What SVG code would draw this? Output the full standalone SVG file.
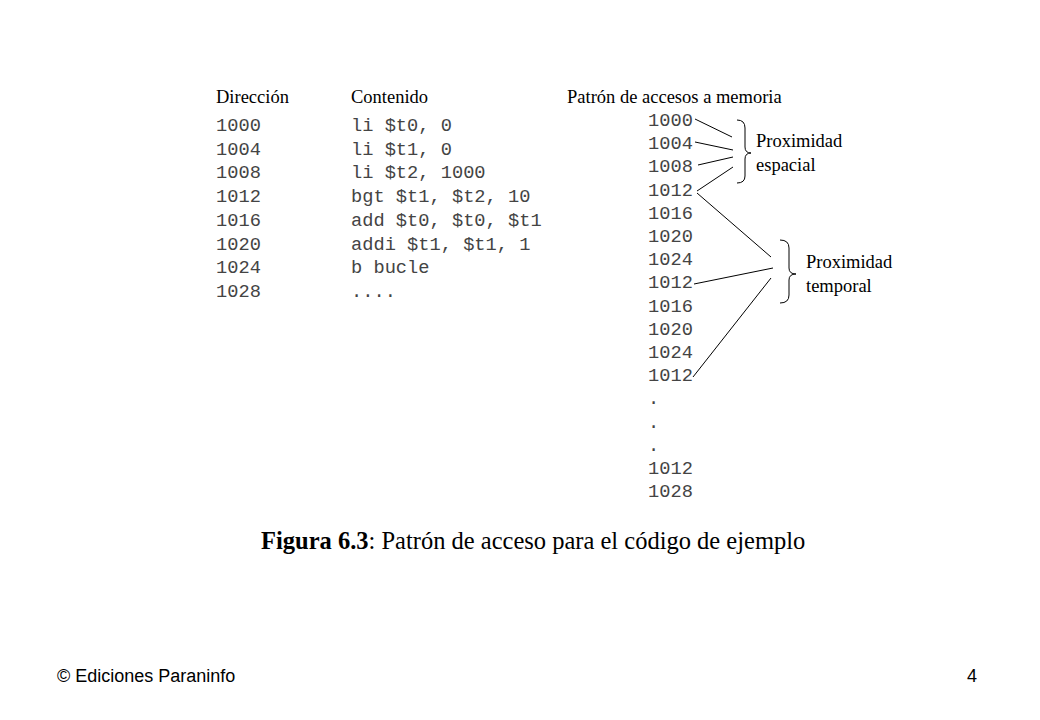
<svg xmlns="http://www.w3.org/2000/svg" width="1040" height="720" viewBox="0 0 1040 720">
<style>
.m{font-family:"Liberation Mono",monospace;font-size:18.7px;fill:#444}
.s{font-family:"Liberation Serif",serif;font-size:18.5px;fill:#000}
.cap{font-family:"Liberation Serif",serif;font-size:24.5px;fill:#000}
.c{stroke:#000;stroke-width:1;fill:none}
</style>
<rect width="1040" height="720" fill="#fff"/>
<g id="headers" class="s">
<text x="216" y="103">Dirección</text>
<text x="351" y="103">Contenido</text>
<text x="567" y="103">Patrón de accesos a memoria</text>
</g>
<g id="code" class="m">
<text x="216" y="131">1000</text><text x="351" y="131">li $t0, 0</text>
<text x="216" y="154.7">1004</text><text x="351" y="154.7">li $t1, 0</text>
<text x="216" y="178.4">1008</text><text x="351" y="178.4">li $t2, 1000</text>
<text x="216" y="202.1">1012</text><text x="351" y="202.1">bgt $t1, $t2, 10</text>
<text x="216" y="225.8">1016</text><text x="351" y="225.8">add $t0, $t0, $t1</text>
<text x="216" y="249.5">1020</text><text x="351" y="249.5">addi $t1, $t1, 1</text>
<text x="216" y="273.2">1024</text><text x="351" y="273.2">b bucle</text>
<text x="216" y="296.9">1028</text><text x="351" y="296.9">....</text>
</g>
<g id="pattern" class="m">
<text x="648" y="126">1000</text>
<text x="648" y="149.2">1004</text>
<text x="648" y="172.4">1008</text>
<text x="648" y="195.6">1012</text>
<text x="648" y="218.8">1016</text>
<text x="648" y="242">1020</text>
<text x="648" y="265.2">1024</text>
<text x="648" y="288.4">1012</text>
<text x="648" y="311.6">1016</text>
<text x="648" y="334.8">1020</text>
<text x="648" y="358">1024</text>
<text x="648" y="381.2">1012</text>
<text x="648" y="404.4">.</text>
<text x="648" y="427.6">.</text>
<text x="648" y="450.8">.</text>
<text x="648" y="474">1012</text>
<text x="648" y="497.2">1028</text>
</g>
<g id="espacial">
<path class="c" d="M737,120 Q745,120 745,128 L745,147 Q745,153 751,153 Q745,153 745,159 L745,176 Q745,183 737,183"/>
<text class="s" x="756" y="147">Proximidad</text>
<text class="s" x="756" y="171">espacial</text>
</g>
<g id="temporal">
<path class="c" d="M780,240 Q789,240 789,248 L789,268 Q789,274 796,274 Q789,274 789,280 L789,295 Q789,303 780,303"/>
<text class="s" x="806" y="268">Proximidad</text>
<text class="s" x="806" y="292">temporal</text>
</g>
<g id="connectors" class="c">
<line x1="695" y1="119" x2="732" y2="137"/>
<line x1="695" y1="142" x2="733" y2="150"/>
<line x1="698" y1="165" x2="733" y2="157"/>
<line x1="697" y1="191" x2="733" y2="167"/>
<line x1="697" y1="193" x2="771" y2="257"/>
<line x1="694" y1="284" x2="773" y2="268"/>
<line x1="693" y1="377" x2="771" y2="278"/>
</g>
<text class="cap" x="261" y="549"><tspan font-weight="bold">Figura 6.3</tspan>: Patrón de acceso para el código de ejemplo</text>
<text x="57" y="682" font-family="Liberation Sans,sans-serif" font-size="18">© Ediciones Paraninfo</text>
<text x="967" y="682" font-family="Liberation Sans,sans-serif" font-size="18">4</text>
</svg>
